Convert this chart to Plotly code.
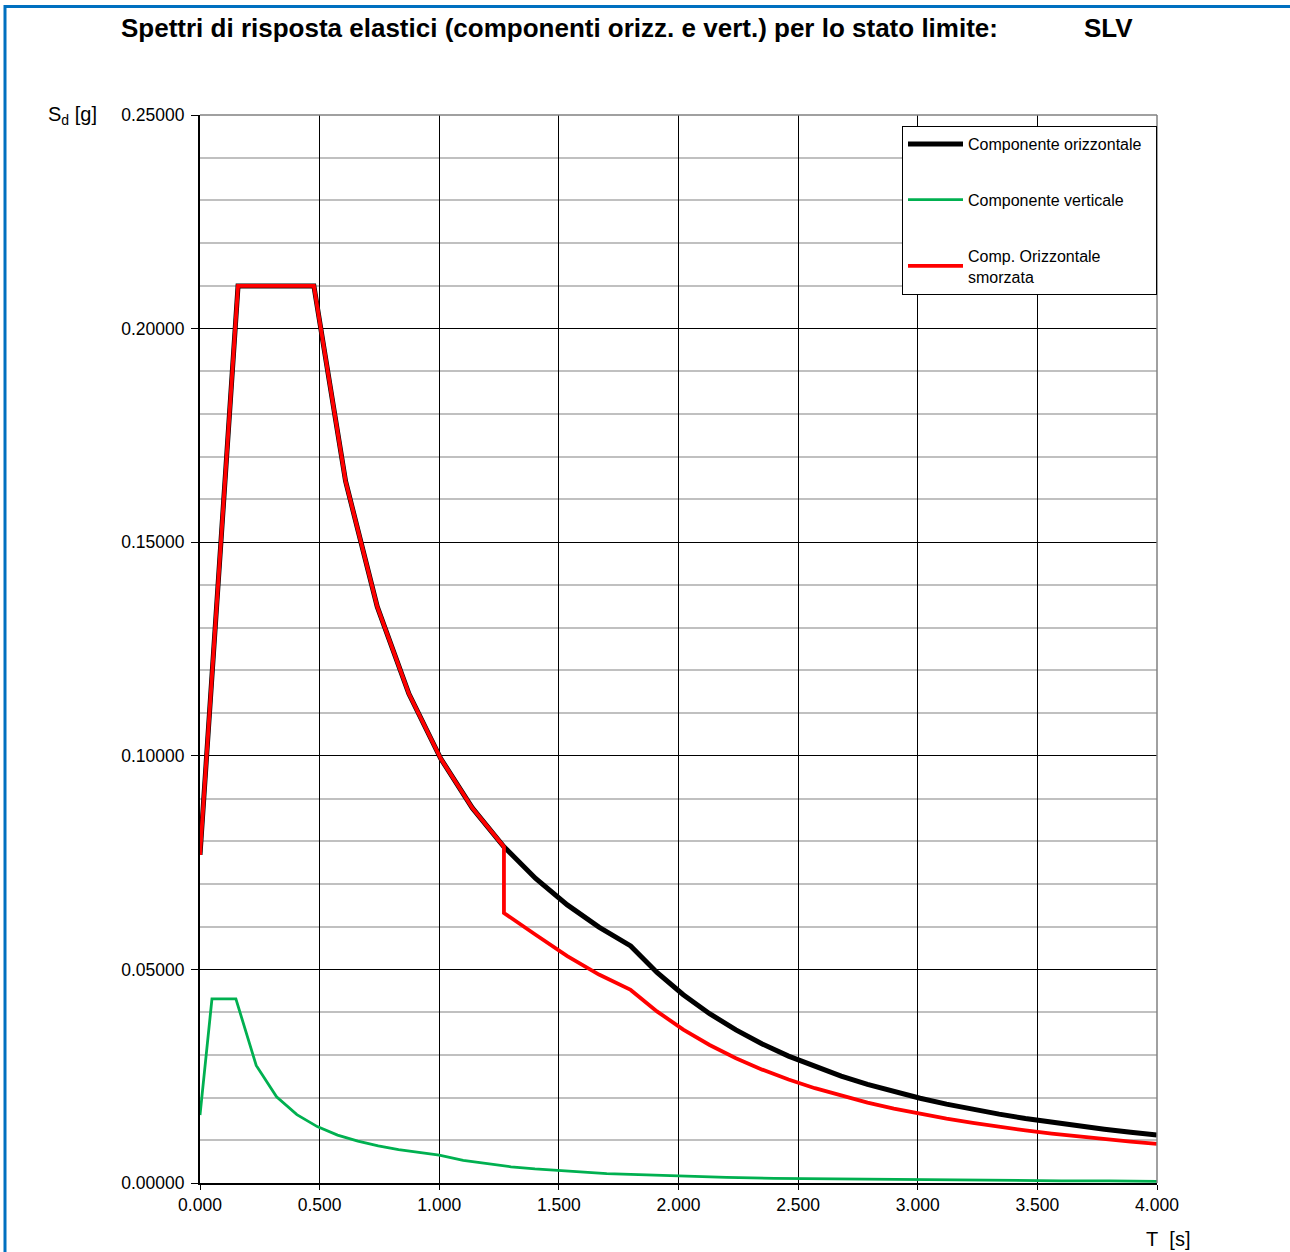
import plotly.graph_objects as go

# Componente orizzontale (black)
T_oriz = [0.0, 0.159, 0.476, 0.6084, 0.7408, 0.8732, 1.0056, 1.138, 1.2704, 1.4028, 1.5352,
          1.6676, 1.80, 1.91, 2.02, 2.13, 2.24, 2.35, 2.46, 2.57, 2.68, 2.79, 2.90, 3.01,
          3.12, 3.23, 3.34, 3.45, 3.56, 3.67, 3.78, 3.89, 4.00]
Sd_oriz = [0.0768, 0.2100, 0.2100, 0.1643, 0.1349, 0.1145, 0.0994, 0.0878, 0.0787, 0.0713,
           0.0651, 0.0599, 0.0555, 0.04929, 0.04407, 0.03964, 0.03584, 0.03256, 0.02971,
           0.02723, 0.02504, 0.02310, 0.02138, 0.01985, 0.01847, 0.01724, 0.01612, 0.01511,
           0.01419, 0.01335, 0.01259, 0.01188, 0.01124]

# Componente verticale (green)
T_vert = [0.0, 0.05, 0.15, 0.235, 0.32, 0.405, 0.49, 0.575, 0.66, 0.745, 0.83, 0.915, 1.0,
          1.1, 1.2, 1.3, 1.4, 1.5, 1.6, 1.7, 1.8, 1.9, 2.0, 2.2, 2.4, 2.6, 2.8, 3.0, 3.2,
          3.4, 3.6, 3.8, 4.0]
Sd_vert = [0.0159, 0.0431, 0.0431, 0.0275, 0.0202, 0.0160, 0.0132, 0.0112, 0.0098, 0.0087,
           0.0078, 0.0071, 0.0065, 0.0053, 0.0045, 0.0038, 0.0033, 0.0029, 0.0025, 0.0022,
           0.0020, 0.0018, 0.0016, 0.0013, 0.0011, 0.0010, 0.0008, 0.0007, 0.0006, 0.0006,
           0.0005, 0.0005, 0.0004]

# Comp. Orizzontale smorzata (red)
T_smorz = [0.0, 0.159, 0.476, 0.6084, 0.7408, 0.8732, 1.0056, 1.138, 1.2704, 1.2704, 1.4028,
           1.5352, 1.6676, 1.80, 1.91, 2.02, 2.13, 2.24, 2.35, 2.46, 2.57, 2.68, 2.79, 2.90,
           3.01, 3.12, 3.23, 3.34, 3.45, 3.56, 3.67, 3.78, 3.89, 4.00]
Sd_smorz = [0.0768, 0.2100, 0.2100, 0.1643, 0.1349, 0.1145, 0.0994, 0.0878, 0.0787, 0.0632,
            0.0581, 0.0531, 0.0488, 0.0452, 0.04017, 0.03592, 0.03231, 0.02921, 0.02654,
            0.02421, 0.02219, 0.02041, 0.01883, 0.01742, 0.01618, 0.01505, 0.01405, 0.01314,
            0.01231, 0.01156, 0.01088, 0.01026, 0.00968, 0.00916]

FONT = "Liberation Sans, Arial, sans-serif"
W, H = 1290, 1252
L, R, TOP, B = 200, 133, 115, 69
PW, PH = W - L - R, H - TOP - B

def px(x):
    return (x - L) / PW

def py(y):
    return (H - B - y) / PH

fig = go.Figure()
fig.add_trace(go.Scatter(x=T_oriz, y=Sd_oriz, mode="lines",
                         name="Componente orizzontale\u00a0\u00a0",
                         line=dict(color="black", width=5), legendgroup="a"))
fig.add_trace(go.Scatter(x=T_vert, y=Sd_vert, mode="lines", name="Componente verticale",
                         line=dict(color="#00B050", width=2.8), legendgroup="b"))
fig.add_trace(go.Scatter(x=T_smorz, y=Sd_smorz, mode="lines",
                         name="Comp. Orizzontale<br>smorzata",
                         line=dict(color="#FF0000", width=3.8), legendgroup="c"))

fig.update_layout(
    width=W, height=H, autosize=False,
    margin=dict(l=L, r=R, t=TOP, b=B, pad=0),
    paper_bgcolor="white", plot_bgcolor="white",
    font=dict(family=FONT, color="black", size=17),
    showlegend=True,
    legend=dict(x=1.0, xanchor="right", y=py(126), yanchor="top",
                bgcolor="white", bordercolor="black", borderwidth=1,
                font=dict(family=FONT, size=16, color="black"),
                itemwidth=55, tracegroupgap=32, traceorder="grouped"),
    xaxis=dict(range=[0, 4], dtick=0.5, tick0=0, tickformat=".3f",
               showgrid=True, gridcolor="black", gridwidth=1,
               showline=True, linecolor="black", linewidth=2,
               ticks="outside", ticklen=5, tickcolor="black", tickwidth=1,
               zeroline=False, tickfont=dict(size=17.5)),
    yaxis=dict(range=[0, 0.25], dtick=0.05, tick0=0, tickformat=".5f",
               showgrid=True, gridcolor="black", gridwidth=1,
               minor=dict(dtick=0.01, showgrid=True, gridcolor="#C0C0C0", gridwidth=1.5),
               showline=True, linecolor="black", linewidth=2,
               ticks="outside", ticklen=7, tickcolor="black", tickwidth=1,
               zeroline=False, tickfont=dict(size=17.5), ticklabelstandoff=3),
)

# plot frame top / right (gray)
fig.add_shape(type="line", xref="paper", yref="paper", x0=0, x1=1, y0=1, y1=1,
              line=dict(color="#808080", width=1.5))
fig.add_shape(type="line", xref="paper", yref="paper", x0=1, x1=1, y0=0, y1=1,
              line=dict(color="#808080", width=1.5))

# blue outer frame
fig.add_shape(type="line", xref="paper", yref="paper", x0=px(4), x1=px(1295),
              y0=py(6.5), y1=py(6.5), line=dict(color="#0070C0", width=3))
fig.add_shape(type="line", xref="paper", yref="paper", x0=px(5), x1=px(5),
              y0=py(5), y1=py(1260), line=dict(color="#0070C0", width=3))

fig.add_annotation(xref="paper", yref="paper", x=px(119), y=py(28), xanchor="left",
                   yanchor="middle", showarrow=False,
                   text="<b>Spettri di risposta elastici (componenti orizz. e vert.) per lo stato limite:</b>",
                   font=dict(family=FONT, size=26, color="black"))
fig.add_annotation(xref="paper", yref="paper", x=px(1082), y=py(28), xanchor="left",
                   yanchor="middle", showarrow=False, text="<b>SLV</b>",
                   font=dict(family=FONT, size=26, color="black"))
fig.add_annotation(xref="paper", yref="paper", x=px(46), y=py(115), xanchor="left",
                   yanchor="middle", showarrow=False, text="S<sub>d</sub>\u00a0[g]",
                   font=dict(family=FONT, size=20, color="black"))
fig.add_annotation(xref="paper", yref="paper", x=px(1144), y=py(1239), xanchor="left",
                   yanchor="middle", showarrow=False, text="T\u00a0\u00a0[s]",
                   font=dict(family=FONT, size=20, color="black"))

fig.write_html("out.html", config={"displayModeBar": False},
               post_script="document.body.style.margin='0px';document.body.style.overflow='hidden';")
